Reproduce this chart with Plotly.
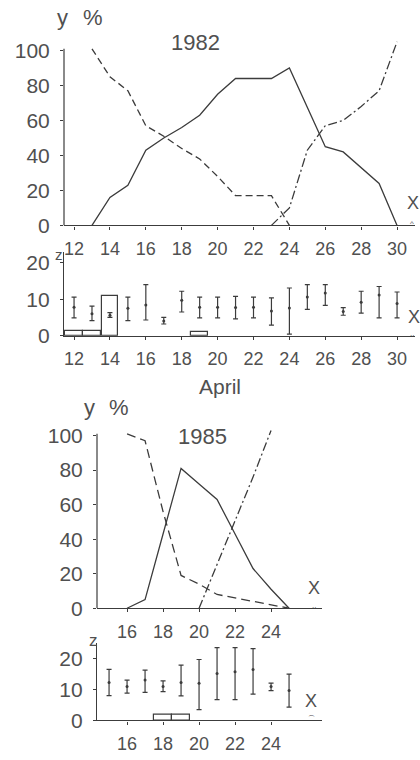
import plotly.graph_objects as go

W, H = 420, 760
LC = "#3c3c3c"   # line colour
TC = "#505050"   # text colour
F = "Liberation Sans"

# ---------------- 1982 (April) ----------------
days82_solid = [13, 14, 15, 16, 17, 18, 19, 20, 21, 22, 23, 24, 25, 26, 27, 28, 29, 30]
solid82 = [0, 16, 23, 43, 50, 56, 63, 75, 84, 84, 84, 90, 68, 45, 42, 33, 24, 0]

days82_dash = [13, 14, 15, 16, 17, 18, 19, 20, 21, 22, 23, 24]
dash82 = [101, 85, 77, 57, 51, 44, 38, 28, 17, 17, 17, 0]

days82_dashdot = [23, 24, 25, 26, 27, 28, 29, 30]
dashdot82 = [0, 10, 43, 57, 60, 68, 77, 105]

days82_z = [12, 13, 14, 15, 16, 17, 18, 19, 20, 21, 22, 23, 24, 25, 26, 27, 28, 29, 30]
z82_top = [10.6, 8.1, 6.3, 10.6, 14.0, 5.0, 12.2, 10.6, 10.6, 10.8, 10.6, 10.4, 13.1, 14.0, 14.0, 7.7, 12.2, 13.5, 12.0]
z82_mid = [7.8, 6.0, 5.6, 7.5, 8.4, 4.0, 9.7, 7.8, 7.8, 7.7, 7.8, 6.8, 7.6, 10.6, 11.7, 6.6, 9.2, 11.2, 8.8]
z82_bot = [4.9, 4.1, 5.0, 4.1, 4.3, 3.2, 6.5, 4.9, 4.9, 4.6, 4.9, 2.9, 0.4, 7.2, 8.3, 5.6, 6.2, 4.9, 4.9]

bar82_days = [12, 13, 14, 19]
bar82_vals = [1.3, 1.3, 11.0, 1.0]
bar82_width = [1.0, 1.0, 0.94, 0.94]

ticks82 = [12, 14, 16, 18, 20, 22, 24, 26, 28, 30]

# ---------------- 1985 ----------------
days85_solid = [16, 17, 18, 19, 20, 21, 22, 23, 24, 25]
solid85 = [0, 5, 43, 81, 72, 63, 43, 23, 11, 0]

days85_dash = [16, 17, 18, 19, 20, 21, 22, 23, 24, 25]
dash85 = [101, 97, 56, 19, 14, 8, 6, 4, 2, 0]

days85_dashdot = [20, 21, 22, 23, 24]
dashdot85 = [0, 25, 50, 76, 103]

days85_z = [15, 16, 17, 18, 19, 20, 21, 22, 23, 24, 25]
z85_top = [16.4, 13.0, 16.2, 12.7, 17.8, 19.6, 23.4, 23.4, 23.1, 12.0, 14.9]
z85_mid = [12.2, 10.9, 13.0, 10.9, 12.2, 12.0, 15.1, 15.7, 16.4, 10.9, 9.6]
z85_bot = [8.0, 8.8, 9.0, 9.3, 7.9, 3.5, 6.7, 6.7, 8.5, 9.6, 4.3]

bar85_days = [18, 19]
bar85_vals = [1.9, 1.9]

ticks85 = [16, 18, 20, 22, 24]
y_ticks = [0, 20, 40, 60, 80, 100]
z_ticks = [0, 10, 20]


def px(x):
    return x / W


def py(y):
    return 1 - y / H


fig = go.Figure()

line_solid = dict(color=LC, width=1.3)
line_dash = dict(color=LC, width=1.3, dash="7px,4px")
line_dashdot = dict(color=LC, width=1.3, dash="9px,3px,2px,3px")

# panel 1
fig.add_trace(go.Scatter(x=days82_solid, y=solid82, mode="lines", line=line_solid, xaxis="x", yaxis="y"))
fig.add_trace(go.Scatter(x=days82_dash, y=dash82, mode="lines", line=line_dash, xaxis="x", yaxis="y"))
fig.add_trace(go.Scatter(x=days82_dashdot, y=dashdot82, mode="lines", line=line_dashdot, xaxis="x", yaxis="y"))

# panel 2
fig.add_trace(go.Bar(x=bar82_days, y=bar82_vals, width=bar82_width,
                     marker=dict(color="white", line=dict(color=LC, width=1.2)),
                     xaxis="x2", yaxis="y2"))
fig.add_trace(go.Scatter(
    x=days82_z, y=z82_mid, mode="markers",
    marker=dict(size=3, color=LC),
    error_y=dict(type="data", symmetric=False,
                 array=[t - m for t, m in zip(z82_top, z82_mid)],
                 arrayminus=[m - b for m, b in zip(z82_mid, z82_bot)],
                 color=LC, thickness=1.2, width=2.5),
    xaxis="x2", yaxis="y2"))

# panel 3
fig.add_trace(go.Scatter(x=days85_solid, y=solid85, mode="lines", line=line_solid, xaxis="x3", yaxis="y3"))
fig.add_trace(go.Scatter(x=days85_dash, y=dash85, mode="lines", line=dict(color=LC, width=1.3, dash="9px,5px"), xaxis="x3", yaxis="y3"))
fig.add_trace(go.Scatter(x=days85_dashdot, y=dashdot85, mode="lines", line=line_dashdot, xaxis="x3", yaxis="y3"))

# panel 4
fig.add_trace(go.Bar(x=bar85_days, y=bar85_vals, width=1.0,
                     marker=dict(color="white", line=dict(color=LC, width=1.2)),
                     xaxis="x4", yaxis="y4"))
fig.add_trace(go.Scatter(
    x=days85_z, y=z85_mid, mode="markers",
    marker=dict(size=3, color=LC),
    error_y=dict(type="data", symmetric=False,
                 array=[t - m for t, m in zip(z85_top, z85_mid)],
                 arrayminus=[m - b for m, b in zip(z85_mid, z85_bot)],
                 color=LC, thickness=1.2, width=2.5),
    xaxis="x4", yaxis="y4"))


def xax(rng, dom, ticks, anchor):
    return dict(range=rng, domain=dom, anchor=anchor, tickvals=ticks,
                showline=True, linecolor=LC, linewidth=1.2,
                ticks="outside", ticklen=3, tickcolor=LC, tickwidth=1,
                ticklabelstandoff=4,
                showgrid=False, zeroline=False,
                tickfont=dict(size=18, color=TC, family=F))


def yax(rng, dom, ticks, anchor, showline):
    return dict(range=rng, domain=dom, anchor=anchor, tickvals=ticks,
                showline=showline, linecolor=LC, linewidth=1.2,
                ticks="outside", ticklen=3, tickcolor=LC, tickwidth=1,
                ticklabelstandoff=6,
                showgrid=False, zeroline=False,
                tickfont=dict(size=21, color=TC, family=F))


x82 = [11.44, 31.0]
xdom82 = [px(64), px(415)]
x85 = [14.33, 26.83]
xdom85 = [px(97), px(322)]

fig.update_layout(
    width=W, height=H,
    margin=dict(l=0, r=0, t=0, b=0),
    paper_bgcolor="white", plot_bgcolor="white",
    showlegend=False,
    bargap=0,
    xaxis=xax(x82, xdom82, ticks82, "y"),
    yaxis=yax([0, 112], [py(228), py(29)], y_ticks, "x", False),
    xaxis2=xax(x82, xdom82, ticks82, "y2"),
    yaxis2=yax([0, 23], [py(340), py(255)], z_ticks, "x2", True),
    xaxis3=xax(x85, xdom85, ticks85, "y3"),
    yaxis3=yax([0, 110], [py(617), py(424)], y_ticks, "x3", False),
    xaxis4=xax(x85, xdom85, ticks85, "y4"),
    yaxis4=yax([0, 25], [py(731), py(652)], z_ticks, "x4", True),
)

# y axis lines that stop at ~100 %
fig.add_shape(type="line", xref="x domain", yref="y", x0=0, x1=0, y0=0, y1=101,
              line=dict(color=LC, width=1.2))
fig.add_shape(type="line", xref="x3 domain", yref="y3", x0=0, x1=0, y0=0, y1=101,
              line=dict(color=LC, width=1.2))


def label(text, x, y, size=21):
    fig.add_annotation(text=text, x=px(x), y=py(y), xref="paper", yref="paper",
                       xanchor="center", yanchor="middle", showarrow=False,
                       font=dict(size=size, color=TC, family=F))


label("y", 62, 17, 22)
label("%", 93, 17, 22)
label("1982", 195, 42, 22)
label("X", 413, 205, 18)
label("^", 412, 226, 8)
label("z", 59, 258, 15)
label("X", 414, 321, 18)
label("..", 412, 338, 8)
label("April", 220, 392, 21)
label("y", 89, 413, 22)
label("%", 119, 413, 22)
label("1985", 202, 442, 22)
label("X", 314, 596, 18)
label("..", 314, 614, 8)
label("z", 93, 650, 17)
label("X", 311, 711, 18)
label("⌒", 311, 729, 7)

fig.write_html("out.html")
